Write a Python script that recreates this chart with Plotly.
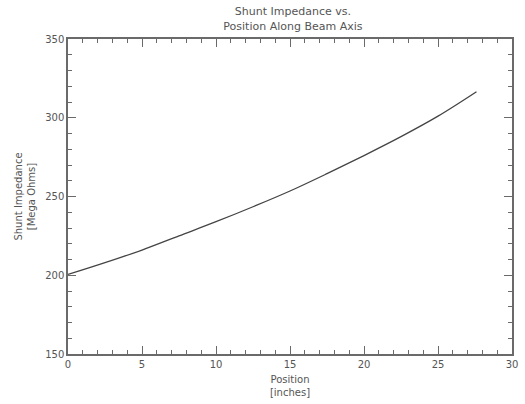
import plotly.graph_objects as go

position = [0, 2.5, 5, 7.5, 10, 12.5, 15, 17.5, 20, 22.5, 25, 27.6]
impedance = [200.5, 208, 216, 225, 234, 243.5, 253.5, 264.5, 276, 288, 301, 316.5]

title_text = "Shunt Impedance vs.<br>Position Along Beam Axis"
x_title = "Position<br>[inches]"
y_title = "Shunt Impedance<br>[Mega Ohms]"

grey = "#6a6a6a"
fnt = dict(family="DejaVu Sans", size=10, color="#555555")

fig = go.Figure()
fig.add_trace(go.Scatter(x=position, y=impedance, mode="lines",
                         line=dict(color="#444444", width=1.3, shape="spline"),
                         showlegend=False))

axis_common = dict(showgrid=False, zeroline=False, showline=True, linecolor=grey,
                   linewidth=1.5, mirror="allticks", ticks="inside", tickcolor=grey,
                   ticklen=8, tickwidth=1, tickfont=fnt)

fig.update_layout(
    width=525, height=404,
    margin=dict(l=68, r=7, t=39, b=47),
    paper_bgcolor="white", plot_bgcolor="white",
    title=dict(text=title_text, x=0.558, xanchor="center", y=0.962, yanchor="top",
               font=dict(family="DejaVu Sans", size=11, color="#555555")),
    xaxis=dict(range=[0, 30], tickvals=[0, 5, 10, 15, 20, 25, 30],
               minor=dict(dtick=1, ticks="inside", ticklen=4, tickcolor=grey),
               title=dict(text=x_title, font=fnt, standoff=7), **axis_common),
    yaxis=dict(range=[150, 350], tickvals=[150, 200, 250, 300, 350],
               minor=dict(dtick=10, ticks="inside", ticklen=4, tickcolor=grey),
               title=dict(text=y_title, font=fnt, standoff=8), **axis_common),
)

fig.write_html("out.html", config={"displayModeBar": False},
               post_script="document.body.style.margin='0px';")
